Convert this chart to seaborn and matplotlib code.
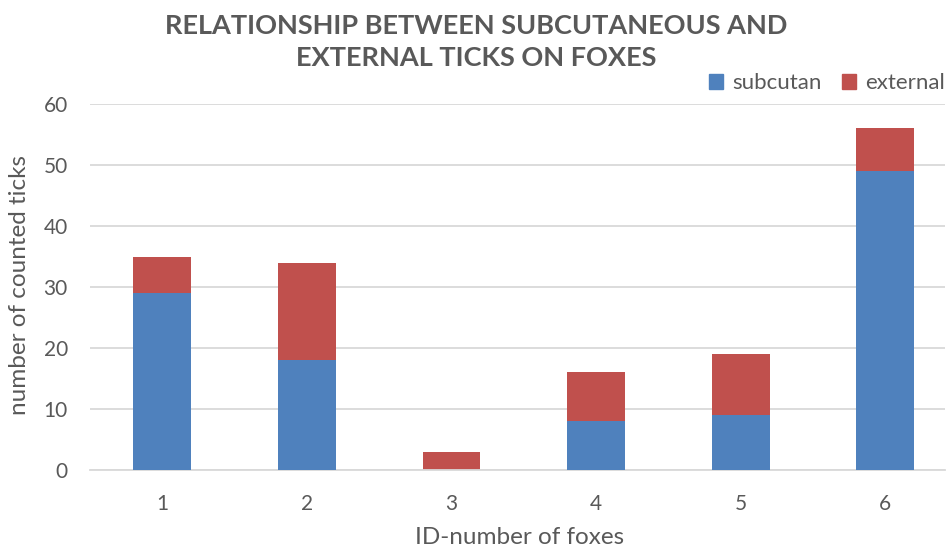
import matplotlib
matplotlib.use("Agg")
import matplotlib.pyplot as plt
import seaborn as sns
import pandas as pd
from matplotlib.patches import Patch

foxes = ["1", "2", "3", "4", "5", "6"]
subcutan = [29, 18, 0, 8, 9, 49]
external = [6, 16, 3, 8, 10, 7]

BLUE = "#4F81BD"
RED = "#C0504D"
TEXT = "#595959"
GRID = "#D9D9D9"

sns.set_theme(style="white")
plt.rcParams["font.family"] = ["Lato", "DejaVu Sans"]

df = pd.DataFrame({"fox": foxes, "subcutan": subcutan, "external": external})
df["total"] = df["subcutan"] + df["external"]

fig = plt.figure(figsize=(9.47, 5.51), dpi=100)
ax = fig.add_axes([90 / 947, 81 / 551, 855 / 947, 366 / 551])

# stacked bars: full height in red, subcutaneous part in blue on top
sns.barplot(data=df, x="fox", y="total", color=RED, width=0.4, ax=ax,
            saturation=1, edgecolor="none", zorder=2)
sns.barplot(data=df, x="fox", y="subcutan", color=BLUE, width=0.4, ax=ax,
            saturation=1, edgecolor="none", zorder=3)

ax.set_xlim(-0.5, 5.413)
ax.set_ylim(0, 60)
ax.set_yticks(range(0, 61, 10))
ax.yaxis.grid(True, color=GRID, linewidth=1.3, zorder=0)
ax.set_axisbelow(True)
for s in ["top", "right", "left"]:
    ax.spines[s].set_visible(False)
ax.spines["bottom"].set_color(GRID)
ax.spines["bottom"].set_linewidth(1.3)
ax.tick_params(axis="both", length=0, labelsize=15, labelcolor=TEXT)
ax.tick_params(axis="x", pad=17)
ax.tick_params(axis="y", pad=16)

ax.set_xlabel("")
ax.set_ylabel("")
fig.text(520 / 947, 1 - 538 / 551, "ID-number of foxes", ha="center", va="center",
         fontsize=17.5, color=TEXT)
fig.text(20 / 947, 1 - 285 / 551, "number of counted ticks", ha="center", va="center",
         rotation=90, fontsize=17.5, color=TEXT)

fig.text(476 / 947, 1 - 42 / 551,
         "RELATIONSHIP BETWEEN SUBCUTANEOUS AND\nEXTERNAL TICKS ON FOXES",
         ha="center", va="center", fontsize=19.5, fontweight="bold",
         color=TEXT, linespacing=1.45)

handles = [Patch(color=BLUE, label="subcutan"), Patch(color=RED, label="external")]
fig.legend(handles=handles, loc="center right", bbox_to_anchor=(1.0, 1 - 83 / 551),
           ncol=2, frameon=False, fontsize=16, labelcolor=TEXT,
           handlelength=0.65, handleheight=0.65, handletextpad=0.4,
           columnspacing=0.9, borderaxespad=0.0, borderpad=0.1)

fig.savefig("out.png", dpi=100)
